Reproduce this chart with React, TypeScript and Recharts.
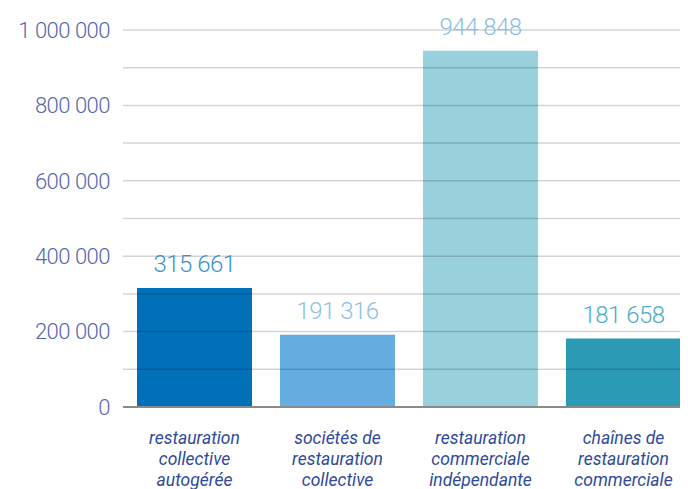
import React from "react";
import { BarChart, Bar, XAxis, YAxis, ReferenceLine, Cell } from "recharts";

const categories = [
  "restauration\ncollective\nautogérée",
  "sociétés de\nrestauration\ncollective",
  "restauration\ncommerciale\nindépendante",
  "chaînes de\nrestauration\ncommerciale",
];
const values = [315661, 191316, 944848, 181658];
const barColors = ["#0070b8", "#63ade0", "#98d1dc", "#2b9bb5"];
const labelColors = ["#3a92d4", "#8cc0e8", "#8cc0e8", "#4fadc5"];
const yTicks = [0, 200000, 400000, 600000, 800000, 1000000];
const gridValues = [100000, 200000, 300000, 400000, 500000, 600000, 700000, 800000, 900000, 1000000];

const data = categories.map((c, i) => ({ name: c, value: values[i] }));

const fmt = (v: number) => String(v).replace(/\B(?=(\d{3})+(?!\d))/g, " ");

const FONT = "Roboto, 'Open Sans', sans-serif";

const XTick = (props: any) => {
  const { x, payload } = props;
  const lines = String(payload.value).split("\n");
  return (
    <text
      x={x}
      y={444}
      textAnchor="middle"
      fill="#2f4a9c"
      fontFamily={FONT}
      fontStyle="italic"
      fontSize={17.5}
    >
      {lines.map((l, i) => (
        <tspan key={i} x={x} y={444 + i * 21}>
          {l}
        </tspan>
      ))}
    </text>
  );
};

const BarLabel = (props: any) => {
  const { x, y, width, value, index } = props;
  return (
    <text
      x={x + width / 2}
      y={y - 16}
      textAnchor="middle"
      fill={labelColors[index]}
      fontFamily={FONT}
      fontWeight={300}
      fontSize={24}
      letterSpacing={-0.5}
    >
      {fmt(value)}
    </text>
  );
};

export default function App() {
  return (
    <div style={{ margin: "-8px 0 0 -8px", width: 688, height: 489, overflow: "hidden" }}>
      <BarChart
        width={700}
        height={489}
        data={data}
        margin={{ top: 30, right: 5, bottom: 0, left: 0 }}
        barCategoryGap={14}
      >
        <XAxis
          dataKey="name"
          height={82}
          tickLine={false}
          axisLine={false}
          interval={0}
          tick={<XTick />}
        />
        <YAxis
          width={123}
          domain={[0, 1000000]}
          ticks={yTicks}
          tickLine={false}
          axisLine={false}
          tickMargin={7}
          tickFormatter={fmt}
          tick={{ fill: "#5568b0", fontSize: 22, fontFamily: FONT, fontWeight: 300, letterSpacing: -0.5 }}
        />
        <Bar dataKey="value" isAnimationActive={false} label={<BarLabel />}>
          {data.map((d, i) => (
            <Cell key={i} fill={barColors[i]} />
          ))}
        </Bar>
        {gridValues.map((v) => (
          <ReferenceLine key={v} y={v} stroke="rgba(0,0,0,0.17)" strokeWidth={1.5} />
        ))}
        <ReferenceLine y={0} stroke="#8a8a8a" strokeWidth={2} />
      </BarChart>
    </div>
  );
}
